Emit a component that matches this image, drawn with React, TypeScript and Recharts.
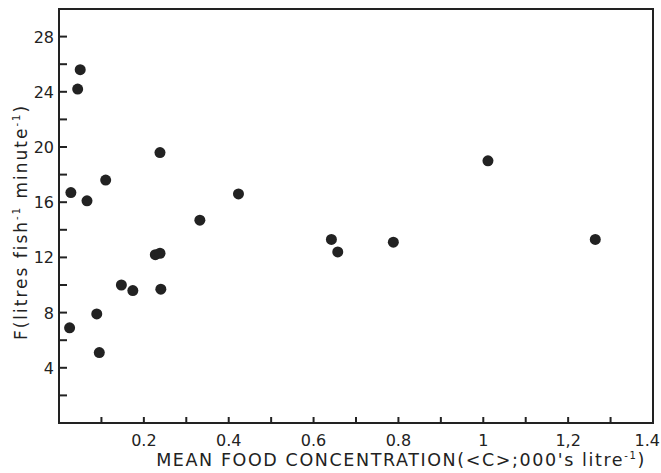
import { ScatterChart, Scatter, XAxis, YAxis, ReferenceArea, Label } from 'recharts';

// mean food concentration (000's per litre) and filtration rate F for each fish
const concentration = [
  0.05, 0.044, 0.238, 0.11, 0.028, 0.066, 0.227, 0.238, 0.147, 0.174, 0.24,
  0.089, 0.025, 0.095, 0.423, 0.332, 1.011, 0.642, 0.657, 0.788, 1.264,
];
const filtration = [
  25.6, 24.2, 19.6, 17.6, 16.7, 16.1, 12.2, 12.3, 10.0, 9.6, 9.7,
  7.9, 6.9, 5.1, 16.6, 14.7, 19.0, 13.3, 12.4, 13.1, 13.3,
];

const xTicks = [0.1, 0.2, 0.3, 0.4, 0.5, 0.6, 0.7, 0.8, 0.9, 1.0, 1.1, 1.2, 1.3, 1.4];
const xTickLabels = ['', '0.2', '', '0.4', '', '0.6', '', '0.8', '', '1', '', '1,2', '', '1.4'];
const yTicks = [2, 4, 6, 8, 10, 12, 14, 16, 18, 20, 22, 24, 26, 28];
const yTickLabels = ['', '4', '', '8', '', '12', '', '16', '', '20', '', '24', '', '28'];

const INK = '#222';
const FONT = '"DejaVu Sans", Verdana, sans-serif';

const data = concentration.map((c, i) => ({ c, f: filtration[i] }));

// ticks point into the plot; only every other one carries a label
function XTick({ x, y, index }: any) {
  const last = index === xTicks.length - 1;
  return (
    <g>
      <line x1={x} x2={x} y1={y} y2={y - 6} stroke={INK} strokeWidth={2} />
      <text
        x={last ? x + 7 : x}
        y={y + 23}
        textAnchor={last ? 'end' : 'middle'}
        fontSize={16}
        fill={INK}
        fontFamily={FONT}
      >
        {xTickLabels[index]}
      </text>
    </g>
  );
}

function YTick({ x, y, index }: any) {
  return (
    <g>
      <line x1={x} x2={x + 8} y1={y} y2={y} stroke={INK} strokeWidth={2} />
      <text x={x - 5} y={y + 6} textAnchor="end" fontSize={16} fill={INK} fontFamily={FONT}>
        {yTickLabels[index]}
      </text>
    </g>
  );
}

function Dot({ cx, cy }: any) {
  return <circle cx={cx} cy={cy} r={5.5} fill={INK} />;
}

export default function App() {
  return (
    <div style={{ position: 'absolute', left: 0, top: 0, background: '#fff' }}>
      <ScatterChart width={661} height={473} margin={{ top: 9, right: 8, bottom: 0, left: 0 }}>
        <XAxis
          type="number"
          dataKey="c"
          domain={[0, 1.4]}
          ticks={xTicks}
          interval={0}
          tickSize={0}
          tickMargin={0}
          tickLine={false}
          tick={<XTick />}
          axisLine={{ stroke: INK, strokeWidth: 2 }}
          height={50}
          allowDataOverflow
        >
          <Label
            content={() => (
              <text
                x={401}
                y={466}
                textAnchor="middle"
                fontSize={17.5}
                letterSpacing={1.6}
                fill={INK}
                fontFamily={FONT}
              >
                MEAN FOOD CONCENTRATION(&lt;C&gt;;000's litre
                <tspan dy={-7} fontSize={10}>-1</tspan>
                <tspan dy={7}>)</tspan>
              </text>
            )}
          />
        </XAxis>
        <YAxis
          type="number"
          dataKey="f"
          domain={[0, 30]}
          ticks={yTicks}
          interval={0}
          tickSize={0}
          tickMargin={0}
          tickLine={false}
          tick={<YTick />}
          axisLine={{ stroke: INK, strokeWidth: 2 }}
          width={59}
          allowDataOverflow
        >
          <Label
            content={() => (
              <text
                transform="translate(27, 222) rotate(-90)"
                textAnchor="middle"
                fontSize={17}
                letterSpacing={2}
                fill={INK}
                fontFamily={FONT}
              >
                F(litres fish
                <tspan dy={-7} fontSize={10}>-1</tspan>
                <tspan dy={7}> minute</tspan>
                <tspan dy={-7} fontSize={10}>-1</tspan>
                <tspan dy={7}>)</tspan>
              </text>
            )}
          />
        </YAxis>
        <ReferenceArea x1={0} x2={1.4} y1={0} y2={30} fill="none" stroke={INK} strokeWidth={2} />
        <Scatter data={data} shape={<Dot />} isAnimationActive={false} />
      </ScatterChart>
    </div>
  );
}
